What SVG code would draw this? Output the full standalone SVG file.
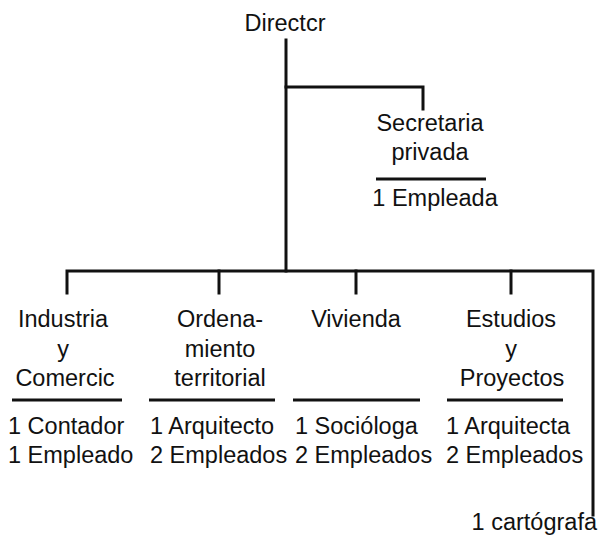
<svg xmlns="http://www.w3.org/2000/svg" width="599" height="537" viewBox="0 0 599 537">
<style>
  text { font-family: "Liberation Sans", Arial, sans-serif; font-size: 23.5px; fill: #111; }
  .c { text-anchor: middle; }
  .line { stroke: #111; stroke-width: 3; fill: none; stroke-linecap: square; }
  .rule { stroke: #111; stroke-width: 3; }
</style>
<rect width="599" height="537" fill="#fff"/>
<g id="connectors">
  <path class="line" d="M286 40 V271"/>
  <path class="line" d="M286 87 H423 V109"/>
  <path class="line" d="M67 293 V271 H593 V515"/>
  <path class="line" d="M219 271 V293"/>
  <path class="line" d="M356 271 V293"/>
  <path class="line" d="M511 271 V293"/>
</g>
<g id="director">
  <text class="c" x="285" y="31">Directcr</text>
</g>
<g id="secretaria">
  <text class="c" x="430" y="131">Secretaria</text>
  <text class="c" x="430" y="160">privada</text>
  <line class="rule" x1="376" y1="179" x2="486" y2="179"/>
  <text class="c" x="435" y="206">1 Empleada</text>
</g>
<g id="industria">
  <text class="c" x="63" y="327">Industria</text>
  <text class="c" x="63" y="357">y</text>
  <text class="c" x="65" y="386">Comercic</text>
  <line class="rule" x1="12" y1="400" x2="122" y2="400"/>
  <text x="8" y="434">1 Contador</text>
  <text x="8" y="463">1 Empleado</text>
</g>
<g id="ordenamiento">
  <text class="c" x="220" y="327">Ordena-</text>
  <text class="c" x="220" y="357">miento</text>
  <text class="c" x="220" y="386">territorial</text>
  <line class="rule" x1="149" y1="400" x2="275" y2="400"/>
  <text x="150" y="434">1 Arquitecto</text>
  <text x="150" y="463">2 Empleados</text>
</g>
<g id="vivienda">
  <text class="c" x="356" y="327">Vivienda</text>
  <line class="rule" x1="293" y1="400" x2="420" y2="400"/>
  <text x="295" y="434">1 Socióloga</text>
  <text x="295" y="463">2 Empleados</text>
</g>
<g id="estudios">
  <text class="c" x="511" y="327">Estudios</text>
  <text class="c" x="511" y="357">y</text>
  <text class="c" x="512" y="386">Proyectos</text>
  <line class="rule" x1="447" y1="400" x2="563" y2="400"/>
  <text x="446" y="434">1 Arquitecta</text>
  <text x="446" y="463">2 Empleados</text>
</g>
<g id="cartografa">
  <text x="597" y="530" style="text-anchor:end">1 cartógrafa</text>
</g>
</svg>
